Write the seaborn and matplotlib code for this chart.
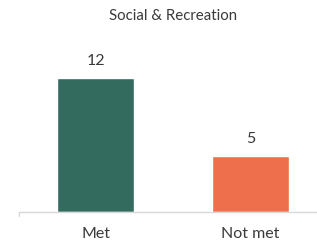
import matplotlib
matplotlib.use("Agg")
import matplotlib.pyplot as plt
import seaborn as sns
import pandas as pd
from matplotlib.lines import Line2D

categories = ["Met", "Not met"]
values = [12, 5]
colors = ["#346B5F", "#EE6F4B"]
title = "Social & Recreation"

sns.set_theme(style="white")
plt.rcParams['font.family'] = ['Lato', 'DejaVu Sans']

df = pd.DataFrame({"cat": categories, "val": values})

fig = plt.figure(figsize=(3.17, 2.44), dpi=100)
ax = fig.add_axes([19/317, 1 - 212/244, (317-19)/317, (212-40)/244])
sns.barplot(data=df, x="cat", y="val", hue="cat", palette=colors, width=0.5,
            legend=False, ax=ax, saturation=1)
ax.set_xlim(-0.494, 1.43)
ax.set_ylim(0, 12 * 172 / 134)
for c in ax.containers:
    ax.bar_label(c, labels=[f"{v:g}" for v in c.datavalues], padding=7,
                 fontsize=11.5, color="#3a3a3a")
ax.set_xlabel("")
ax.set_ylabel("")
ax.set_yticks([])
ax.tick_params(axis="x", length=0, pad=11, labelsize=11.5, labelcolor="#3a3a3a")
for s in ["top", "right", "left"]:
    ax.spines[s].set_visible(False)
ax.spines["bottom"].set_color("#d9d9d9")
ax.spines["bottom"].set_linewidth(1)
ax.add_line(Line2D([0, 0], [0, -0.025], transform=ax.transAxes, color="#d9d9d9",
                   lw=1, clip_on=False))
fig.text(173/317, 1 - 16/244, title, ha="center", va="center", fontsize=10.8,
         color="#3a3a3a")
fig.savefig("out.png", dpi=100)
